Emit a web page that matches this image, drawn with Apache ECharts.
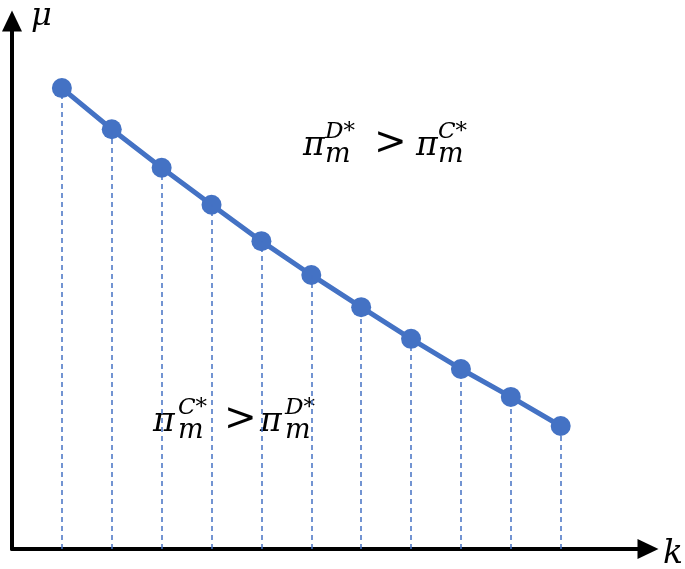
<!DOCTYPE html>
<html>
<head>
<meta charset="utf-8">
<script src="https://cdn.jsdelivr.net/npm/echarts@6/dist/echarts.min.js"></script>
<style>
  html, body { margin: 0; padding: 0; background: #fff; }
  #chart { width: 685px; height: 569px; }
</style>
</head>
<body>
<div id="chart"></div>
<script>
// data
const kValues = [1, 2, 3, 4, 5, 6, 7, 8, 9, 10, 11];
const muValues = [87.3, 79.5, 72.2, 65.2, 58.3, 51.9, 45.8, 39.8, 34.1, 28.8, 23.3];

const blue = '#4472C4';
const mathFont = '"DejaVu Serif", "Liberation Serif", serif';

const chart = echarts.init(document.getElementById('chart'));

// "π_m^{a*}" : big π with superscript and subscript stacked after it
// (x, base) = left of π, baseline of π
const piTerm = (x, base, sup, dx) => [
  { type: 'text', left: x, top: base - 27, style: { text: 'π', font: 'italic 33px ' + mathFont, fill: '#000' } },
  { type: 'text', left: x + dx, top: base - 36, style: { text: sup, font: 'italic 23px ' + mathFont, fill: '#000' } },
  { type: 'text', left: x + dx, top: base - 16, style: { text: 'm', font: 'italic 27px ' + mathFont, fill: '#000' } }
];

const inequality = (x, base, leftSup, rightSup, gtX, rightX, dx) => [
  ...piTerm(x, base, leftSup, dx),
  { type: 'text', left: gtX, top: base - 33, style: { text: '>', font: '39px ' + mathFont, fill: '#000' } },
  ...piTerm(rightX, base, rightSup, dx)
];

const option = {
  animation: false,
  grid: { left: 12, right: 37, top: 21, bottom: 20 },
  xAxis: {
    type: 'value',
    min: 0,
    max: 12.75,
    axisLine: {
      lineStyle: { color: '#000', width: 4 },
      symbol: ['none', 'triangle'],
      symbolSize: [20, 21]
    },
    axisTick: { show: false },
    axisLabel: { show: false },
    splitLine: { show: false }
  },
  yAxis: {
    type: 'value',
    min: 0,
    max: 100,
    axisLine: {
      show: true,
      lineStyle: { color: '#000', width: 4 },
      symbol: ['none', 'triangle'],
      symbolSize: [20, 21]
    },
    axisTick: { show: false },
    axisLabel: { show: false },
    splitLine: { show: false }
  },
  graphic: [
    { type: 'text', left: 31, top: 1, style: { text: 'μ', font: 'italic 32px ' + mathFont, fill: '#000' } },
    { type: 'text', left: 663, top: 538, style: { text: 'k', font: 'italic 33px ' + mathFont, fill: '#000' } },
    ...inequality(303, 157, 'D*', 'C*', 374, 416, 22),
    ...inequality(153, 433, 'C*', 'D*', 224, 260, 25)
  ],
  series: [{
    type: 'line',
    data: kValues.map((k, i) => [k, muValues[i]]),
    symbol: 'circle',
    symbolSize: 20,
    lineStyle: { color: blue, width: 5 },
    itemStyle: { color: blue },
    z: 3,
    markLine: {
      silent: true,
      symbol: 'none',
      label: { show: false },
      lineStyle: { color: blue, width: 1.5, type: [5, 4] },
      data: kValues.map((k, i) => [{ coord: [k, 0] }, { coord: [k, muValues[i]] }])
    }
  }]
};

chart.setOption(option);
</script>
</body>
</html>
